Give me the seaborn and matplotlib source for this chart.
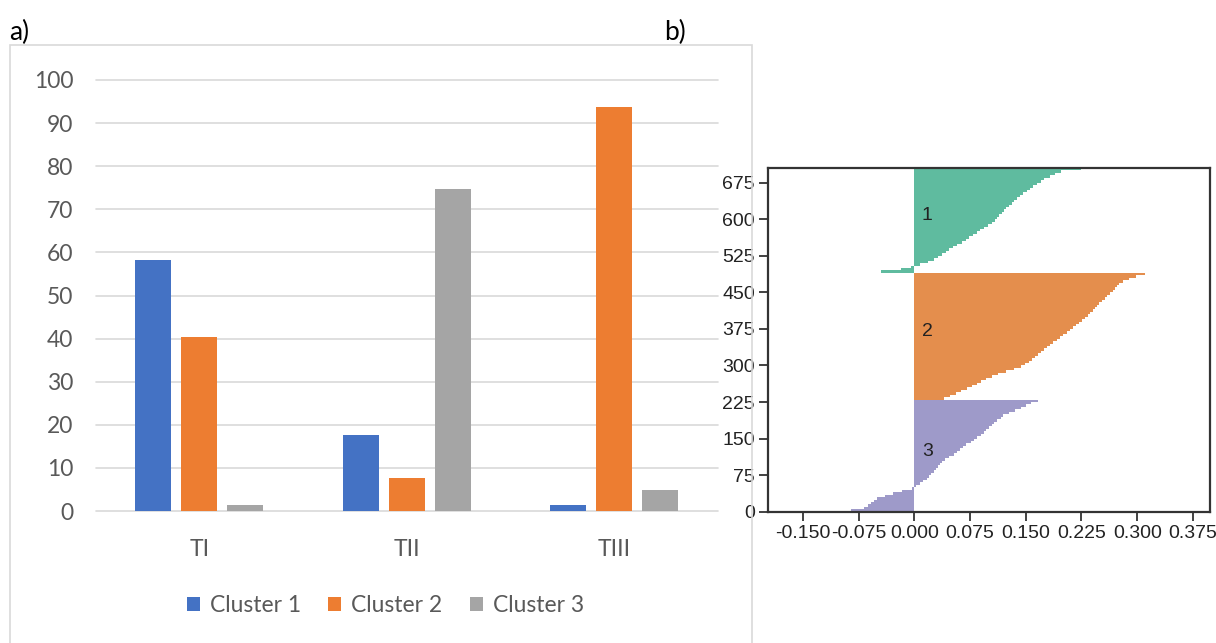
import numpy as np
import pandas as pd
import matplotlib
matplotlib.use("Agg")
import matplotlib.pyplot as plt
from matplotlib.patches import Rectangle
import seaborn as sns

# ---- a) share of each cluster within each period (%) ----
periods = ["TI", "TII", "TIII"]
clusters = ["Cluster 1", "Cluster 2", "Cluster 3"]
cluster1_pct = [58.3, 17.7, 1.4]
cluster2_pct = [40.3, 7.6, 93.8]
cluster3_pct = [1.4, 74.7, 4.8]
pct_ticks = list(range(0, 101, 10))
bar_colors = ["#4472C4", "#ED7D31", "#A5A5A5"]

# ---- b) silhouette coefficients, sorted within each cluster ----
# each value stands for a block of consecutive samples of that cluster
sil_cluster1 = [-0.045, -0.018, -0.004, 0.008, 0.019, 0.027, 0.032, 0.037, 0.042,
                0.047, 0.052, 0.057, 0.064, 0.069, 0.074, 0.079, 0.084, 0.089,
                0.094, 0.099, 0.104, 0.108, 0.111, 0.114, 0.118, 0.121, 0.124,
                0.128, 0.131, 0.134, 0.138, 0.142, 0.146, 0.151, 0.156, 0.160,
                0.165, 0.170, 0.175, 0.182, 0.189, 0.198, 0.225]
sil_cluster2 = [0.040, 0.048, 0.056, 0.063, 0.071, 0.078, 0.084, 0.090, 0.097,
                0.105, 0.112, 0.123, 0.134, 0.143, 0.149, 0.155, 0.159, 0.163,
                0.167, 0.171, 0.175, 0.179, 0.183, 0.187, 0.192, 0.196, 0.200,
                0.205, 0.209, 0.214, 0.218, 0.222, 0.226, 0.230, 0.234, 0.237,
                0.240, 0.243, 0.246, 0.249, 0.252, 0.256, 0.260, 0.264, 0.267,
                0.270, 0.273, 0.276, 0.281, 0.289, 0.298, 0.310]
sil_cluster3 = [-0.085, -0.068, -0.062, -0.058, -0.054, -0.050, -0.040, -0.029,
                -0.016, -0.003, 0.002, 0.007, 0.012, 0.017, 0.020, 0.023, 0.026,
                0.029, 0.032, 0.035, 0.037, 0.041, 0.047, 0.054, 0.058, 0.062,
                0.066, 0.070, 0.076, 0.080, 0.085, 0.090, 0.094, 0.097, 0.100,
                0.104, 0.107, 0.111, 0.116, 0.120, 0.127, 0.135, 0.143, 0.150,
                0.157, 0.166]
cluster_sizes = {"1": 215, "2": 260, "3": 230}
sil_yticks = list(range(0, 676, 75))
sil_xticks = [-0.150, -0.075, 0.000, 0.075, 0.150, 0.225, 0.300, 0.375]

sns.set_theme(style="white")
plt.rcParams["font.family"] = ["Lato", "DejaVu Sans"]

W, H = 1216, 643
fig = plt.figure(figsize=(W / 100, H / 100), dpi=100)


def fx(px):
    return px / W


def fy(py):
    return 1 - py / H


# frame around the bar chart
fig.patches.append(Rectangle((fx(10), fy(660)), fx(742), fy(45) - fy(660),
                             transform=fig.transFigure, fill=False,
                             edgecolor="#D9D9D9", linewidth=1.2, zorder=0))
fig.text(fx(9), fy(32), "a)", fontsize=19, color="black", va="center", ha="left")
fig.text(fx(664), fy(32), "b)", fontsize=19, color="black", va="center", ha="left")

# ---------------- a) grouped bars ----------------
axa = fig.add_axes([fx(95.5), fy(511), fx(622.5), fy(80) - fy(511)])
df = pd.DataFrame({
    "period": periods * 3,
    "cluster": np.repeat(clusters, len(periods)),
    "pct": cluster1_pct + cluster2_pct + cluster3_pct,
})
sns.barplot(data=df, x="period", y="pct", hue="cluster", order=periods,
            hue_order=clusters, palette=bar_colors, width=0.665, gap=0.22,
            errorbar=None, saturation=1, linewidth=0, ax=axa)
axa.set_ylim(0, 100)
axa.set_yticks(pct_ticks)
axa.set_xlabel("")
axa.set_ylabel("")
for s in axa.spines.values():
    s.set_visible(False)
axa.set_axisbelow(True)
axa.yaxis.grid(True, color="#D9D9D9", linewidth=1.2)
for gl in axa.get_ygridlines():
    gl.set_clip_on(False)
axa.tick_params(axis="y", length=0, pad=16, labelsize=16.5, labelcolor="#595959")
axa.tick_params(axis="x", length=0, pad=20, labelsize=16.5, labelcolor="#595959")

handles, labels = axa.get_legend_handles_labels()
axa.get_legend().remove()
leg = fig.legend(handles, labels, loc="center", bbox_to_anchor=(fx(385.5), fy(606)),
                 ncol=3, frameon=False, fontsize=16.5, handlelength=0.55,
                 handleheight=0.55, handletextpad=0.45, columnspacing=1.2)
for t in leg.get_texts():
    t.set_color("#595959")

# ---------------- b) silhouette plot ----------------
axb = fig.add_axes([fx(768), fy(511.7), fx(1210 - 768), fy(168) - fy(511.7)])
dark2 = sns.color_palette("Dark2")
stack = [("3", sil_cluster3, dark2[2]),
         ("2", sil_cluster2, dark2[1]),
         ("1", sil_cluster1, dark2[0])]
tick_font = dict(family=["Liberation Sans", "DejaVu Sans"], size=14)
y_lower = 0
for label, vals, color in stack:
    n = cluster_sizes[label]
    step = n / len(vals)
    ys = y_lower + step * np.arange(len(vals))
    axb.barh(ys, vals, height=step, align="edge", color=color, alpha=0.7,
             linewidth=0)
    axb.text(0.01, y_lower + 0.5 * n, label, fontdict=tick_font, color="#222222",
             ha="left", va="baseline")
    y_lower += n

axb.set_ylim(0, y_lower)
axb.set_xlim(-0.197, 0.398)
axb.set_yticks(sil_yticks)
axb.set_xticks(sil_xticks)
axb.set_xticklabels([f"{v:.3f}" for v in sil_xticks])
for lab in axb.get_xticklabels() + axb.get_yticklabels():
    lab.set_fontfamily(["Liberation Sans", "DejaVu Sans"])
    lab.set_fontsize(14)
    lab.set_color("#222222")
for s in axb.spines.values():
    s.set_visible(True)
    s.set_color("#333333")
    s.set_linewidth(1.6)
axb.tick_params(axis="both", direction="out", length=6.5, width=1.3,
                color="#333333", pad=3, left=True, bottom=True)
axb.grid(False)

fig.savefig("out.png", dpi=100)
